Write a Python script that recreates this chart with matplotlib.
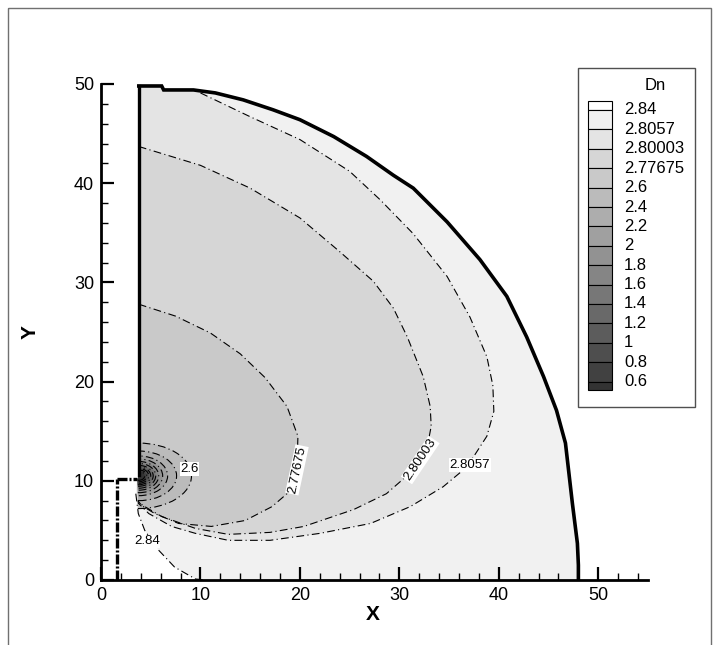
import matplotlib
matplotlib.use("Agg")
import matplotlib.pyplot as plt
from matplotlib.patches import Ellipse, Rectangle, Polygon

plt.rcParams['font.family'] = ['Liberation Sans', 'DejaVu Sans']

# contour levels of Dn (legend order is reversed)
levels = [0.6, 0.8, 1.0, 1.2, 1.4, 1.6, 1.8, 2.0, 2.2, 2.4, 2.6, 2.77675, 2.80003, 2.8057, 2.84]
level_labels = ["0.6", "0.8", "1", "1.2", "1.4", "1.6", "1.8", "2", "2.2", "2.4",
                "2.6", "2.77675", "2.80003", "2.8057", "2.84"]

# outer boundary of the domain, from the top of the wall round to the x axis
bnd_x = [3.8, 6.1, 6.3, 9.3, 11.5, 14.3, 17.3, 20.0, 23.4, 26.7, 29.4, 31.4, 34.8,
         38.1, 40.8, 42.8, 44.5, 45.8, 46.7, 47.4, 47.9, 48.0, 48.0]
bnd_y = [49.8, 49.8, 49.4, 49.4, 49.1, 48.4, 47.4, 46.4, 44.7, 42.7, 40.8, 39.5, 36.1,
         32.3, 28.6, 24.5, 20.5, 17.1, 13.8, 7.7, 3.7, 1.5, 0.0]

# contour curves
c2p8057_x = [10.0, 15.0, 20.0, 25.0, 28.1, 31.4, 34.8, 37.1, 38.8, 39.4, 39.5, 38.8, 36.8,
             34.4, 31.1, 27.1, 22.0, 17.0, 12.8, 9.5, 7.1, 4.8, 3.7]
c2p8057_y = [49.1, 46.7, 44.4, 41.2, 38.3, 34.9, 30.6, 26.5, 22.5, 19.6, 17.0, 14.5, 11.4,
             9.4, 7.4, 5.7, 4.7, 4.0, 4.0, 4.7, 5.4, 6.7, 7.8]
c2p80003_x = [3.8, 10.0, 15.0, 20.0, 24.0, 27.4, 29.4, 30.8, 32.4, 33.1, 33.2, 32.8, 31.1,
              28.7, 25.4, 20.4, 17.0, 12.8, 9.5, 6.1, 4.4, 3.7]
c2p80003_y = [43.7, 41.8, 39.5, 36.5, 33.1, 30.1, 27.4, 24.5, 20.5, 17.5, 15.5, 13.4, 10.8,
              8.7, 7.1, 5.4, 4.8, 4.6, 5.2, 6.4, 7.4, 7.9]
c2p77675_x = [3.8, 7.5, 11.0, 14.0, 16.5, 18.7, 19.8, 19.7, 18.7, 17.2, 14.5, 11.1, 7.8,
              5.4, 4.1, 3.7]
c2p77675_y = [27.8, 26.6, 24.9, 22.8, 20.4, 17.5, 14.5, 11.1, 8.7, 7.4, 6.0, 5.4, 5.7,
              6.7, 7.5, 8.0]
c2p84_x = [3.5, 3.75, 4.4, 5.8, 7.4, 9.5, 10.5]
c2p84_y = [8.7, 6.7, 5.0, 3.0, 1.3, 0.1, 0.0]

# rings around the corner singularity, levels 0.6 ... 2.6 (semi-axes)
ring_a = [0.6, 0.8, 1.0, 1.2, 1.45, 1.7, 2.0, 2.4, 2.9, 3.8, 5.3]
ring_b = [0.45, 0.6, 0.75, 0.9, 1.05, 1.25, 1.45, 1.7, 2.0, 2.5, 3.3]
ring_center = (3.8, 10.5)


def gray(k):
    # band k (0 = below 0.6, 15 = above 2.84)
    return str(0.2 + 0.8 * k / 15)


fig = plt.figure(figsize=(7.17, 6.45), dpi=100)

# background layer in pixel units: frame and legend
bg = fig.add_axes([0, 0, 1, 1])
bg.set_xlim(0, 717)
bg.set_ylim(645, 0)
bg.axis('off')
bg.add_patch(Rectangle((8, 8), 703, 660, fill=False, ec='#707070', lw=1))

bg.add_patch(Rectangle((578, 68), 117, 339, fill=False, ec='#505050', lw=1))
bg.text(655, 85, "Dn", ha='center', va='center', fontsize=12)
top, step = 110, 19.4
bg.add_patch(Rectangle((588, 100.7), 24, top - 100.7, fc=gray(15), ec='k', lw=0.8))
nlev = len(levels)
for k in range(nlev):
    y0 = top + step * k
    h = step if k < nlev - 1 else 8.4
    bg.add_patch(Rectangle((588, y0), 24, h, fc=gray(nlev - 1 - k), ec='k', lw=0.8))
    bg.text(624, y0, level_labels[nlev - 1 - k], ha='left', va='center', fontsize=12)

ax = fig.add_axes([101 / 717, 65 / 645, 547 / 717, 496 / 645])
ax.patch.set_alpha(0)
ax.set_xlim(0, 55)
ax.set_ylim(0, 50)

# domain
dom_x = [1.58] + bnd_x[::-1] + [3.8, 3.6, 1.58]
dom_y = [0.0] + bnd_y[::-1] + [10.6, 10.15, 10.15]
base = ax.fill(dom_x, dom_y, color=gray(14), lw=0, zorder=1)[0]

white = ax.fill([1.58] + c2p84_x[::-1] + [3.6, 1.58],
                [0.0] + c2p84_y[::-1] + [10.15, 10.15],
                color=gray(15), lw=0, zorder=1.1)[0]
white.set_clip_path(base)

pa = ax.fill(c2p8057_x + [3.8, 2.0, 2.0, 10.0], c2p8057_y + [10.6, 11.0, 52.0, 52.0],
             color=gray(13), lw=0, zorder=1.2)[0]
pb = ax.fill(c2p80003_x + [3.8, 2.0, 2.0], c2p80003_y + [10.6, 11.0, 43.7],
             color=gray(12), lw=0, zorder=1.3)[0]
pc = ax.fill(c2p77675_x + [3.8, 2.0, 2.0], c2p77675_y + [10.6, 11.0, 27.8],
             color=gray(11), lw=0, zorder=1.4)[0]
for p in (pa, pb, pc):
    p.set_clip_path(base)

ring_clip = Polygon(list(zip([3.7] + bnd_x[::-1] + [3.8, 3.7],
                             [0.0] + bnd_y[::-1] + [10.6, 10.15])),
                    closed=True, fc='none', ec='none')
ax.add_patch(ring_clip)

dashdot = (0, (7, 3, 1, 3))
for i in range(len(ring_a) - 1, -1, -1):
    e = Ellipse(ring_center, 2 * ring_a[i], 2 * ring_b[i], fc=gray(i), ec='k',
                lw=0.8, ls=dashdot, zorder=2 + (10 - i) * 0.01)
    ax.add_patch(e)
    e.set_clip_path(ring_clip)

for cx, cy in [(c2p8057_x, c2p8057_y), (c2p80003_x, c2p80003_y),
               (c2p77675_x, c2p77675_y), (c2p84_x, c2p84_y)]:
    ln, = ax.plot(cx, cy, color='k', lw=0.8, ls=dashdot, zorder=3)
    ln.set_clip_path(base)

box = dict(fc='white', ec='none', pad=0.6)
for x, y, s, rot in [(37.1, 11.6, "2.8057", 0), (32.1, 12.1, "2.80003", 56),
                     (19.7, 11.1, "2.77675", 78), (8.9, 11.2, "2.6", 0),
                     (4.6, 3.9, "2.84", 0)]:
    ax.text(x, y, s, rotation=rot, rotation_mode='anchor', ha='center', va='center',
            fontsize=9.5, bbox=box, zorder=4)

# domain boundaries
ax.plot(bnd_x, bnd_y, color='k', lw=2.6, zorder=5, solid_joinstyle='miter')
ax.plot([3.8, 3.8], [49.8, 10.6], color='k', lw=2.4, zorder=5)
ax.plot([1.58, 3.6], [10.15, 10.15], color='k', lw=2.4, ls=(0, (3, 0.6, 0.6, 0.6)), zorder=5)
ax.plot([1.58, 1.58], [0, 10.15], color='k', lw=2.4, ls=(0, (3, 0.6, 0.6, 0.6)), zorder=5)

# axes styling
for s in ('top', 'right'):
    ax.spines[s].set_visible(False)
for s in ('left', 'bottom'):
    ax.spines[s].set_linewidth(2)
ax.set_xticks(range(0, 51, 10))
ax.set_yticks(range(0, 51, 10))
ax.set_xticks(range(0, 55, 2), minor=True)
ax.set_yticks(range(0, 51, 2), minor=True)
ax.tick_params(which='major', direction='in', length=9.5, width=1.6, labelsize=13, pad=5)
ax.tick_params(which='minor', direction='in', length=5, width=1)

ax.set_xlabel("X", fontsize=15, fontweight='bold')
ax.set_ylabel("Y", fontsize=15, fontweight='bold')
ax.xaxis.label.set_va('center')
ax.yaxis.label.set_va('center')
ax.xaxis.set_label_coords(0.497, -0.07)
ax.yaxis.set_label_coords(-0.13, 0.5)

fig.savefig("out.png", dpi=100)
